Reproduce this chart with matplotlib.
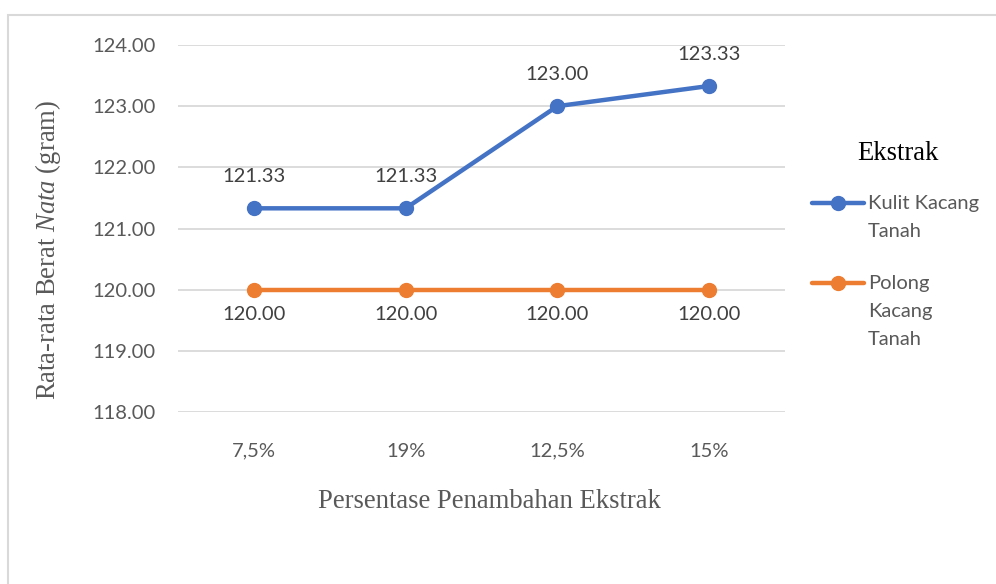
import matplotlib
matplotlib.use("Agg")
import matplotlib.pyplot as plt
from matplotlib.lines import Line2D
from matplotlib.patches import Rectangle

plt.rcParams["mathtext.fontset"] = "custom"
plt.rcParams["mathtext.rm"] = "Liberation Serif"
plt.rcParams["mathtext.it"] = "Liberation Serif:italic"

# data
kategori = ["7,5%", "19%", "12,5%", "15%"]
kulit = [121.33, 121.33, 123.00, 123.33]
polong = [120.00, 120.00, 120.00, 120.00]
nama_seri = ["Kulit Kacang\nTanah", "Polong\nKacang\nTanah"]

BIRU = "#4472C4"
ORANYE = "#ED7D31"
ABU = "#595959"
GRID = "#D9D9D9"
SERIF_SIZE = 19.2

fig = plt.figure(figsize=(9.96, 5.84), dpi=100)
ax = fig.add_axes([178 / 996, 1 - 412 / 584, (785 - 178) / 996, (412 - 45) / 584])

x = list(range(len(kategori)))
ax.plot(x, kulit, color=BIRU, lw=3.2, marker="o", ms=10, solid_capstyle="round", zorder=3)
ax.plot(x, polong, color=ORANYE, lw=3.2, marker="o", ms=10, solid_capstyle="round", zorder=3)

for xi, v in zip(x, kulit):
    ax.annotate(f"{v:.2f}", (xi, v), xytext=(0, 23), textcoords="offset points",
                ha="center", va="center", fontsize=14.5, family="Lato", color="#404040")
for xi, v in zip(x, polong):
    ax.annotate(f"{v:.2f}", (xi, v), xytext=(0, -18), textcoords="offset points",
                ha="center", va="center", fontsize=14.5, family="Lato", color="#404040")

ax.set_xlim(-0.5, len(kategori) - 0.5)
ax.set_ylim(118, 124)
ax.set_yticks([118, 119, 120, 121, 122, 123, 124])
ax.set_yticklabels([f"{t:.2f}" for t in ax.get_yticks()])
ax.set_xticks(x)
ax.set_xticklabels(kategori)
ax.tick_params(length=0, labelsize=14.5, labelcolor=ABU, pad=16)
for lab in ax.get_xticklabels() + ax.get_yticklabels():
    lab.set_family("Lato")
ax.tick_params(axis="x", pad=22)
ax.grid(axis="y", color=GRID, lw=1.3)
ax.set_axisbelow(True)
for s in ax.spines.values():
    s.set_visible(False)

# axis titles
fig.text(489 / 996, 1 - 502 / 584, "Persentase Penambahan Ekstrak", ha="center", va="center",
         family="Liberation Serif", fontsize=SERIF_SIZE, color=ABU)
fig.text(48 / 996, 1 - 250 / 584, "Rata-rata Berat $\\mathit{Nata}$ (gram)", rotation=90,
         ha="center", va="center", family="Liberation Serif", fontsize=SERIF_SIZE, color=ABU)

# legend
fig.text(898 / 996, 1 - 153 / 584, "Ekstrak", ha="center", va="center",
         family="Liberation Serif", fontsize=SERIF_SIZE, color="black")
for warna, nama, yy in [(BIRU, nama_seri[0], 203), (ORANYE, nama_seri[1], 283)]:
    yf = 1 - yy / 584
    fig.add_artist(Line2D([812 / 996, 864 / 996], [yf, yf], transform=fig.transFigure,
                          color=warna, lw=3.2, solid_capstyle="round"))
    fig.add_artist(Line2D([838 / 996], [yf], transform=fig.transFigure,
                          color=warna, marker="o", ms=10))
    fig.text(868 / 996, yf + 8 / 584, nama, ha="left", va="top", family="Lato",
             fontsize=14.5, color=ABU, linespacing=1.78)

# border
fig.add_artist(Rectangle((8 / 996, -0.05), 1.1, 1 - 15 / 584 + 0.05, transform=fig.transFigure,
                         fill=False, edgecolor=GRID, lw=1.5))

fig.savefig("out.png", dpi=100)
